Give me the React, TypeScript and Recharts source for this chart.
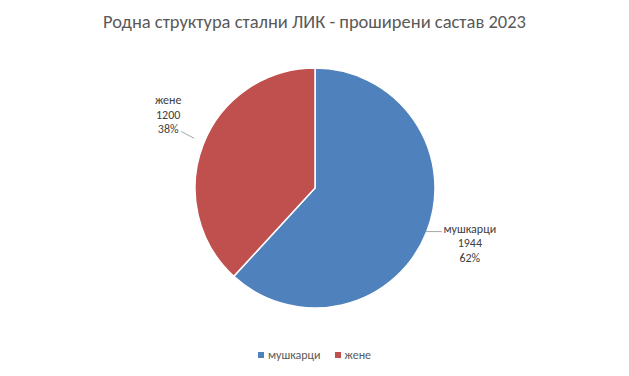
import { PieChart, Pie, Cell, Legend } from "recharts";

const categories = ["мушкарци", "жене"];
const counts = [1944, 1200];
const percents = ["62%", "38%"];
const colors = ["#4F81BD", "#C0504D"];

const chartTitle = "Родна структура стални ЛИК - проширени састав 2023";
const FONT = "Carlito, Calibri, 'Liberation Sans', Arial, sans-serif";

const data = categories.map((name, i) => ({
  name,
  value: counts[i],
  pct: percents[i],
}));

const RAD = Math.PI / 180;

// eslint-disable-next-line @typescript-eslint/no-explicit-any
function renderLabel(props: any) {
  const { cx, cy, midAngle, outerRadius, index } = props;
  const ex = cx + outerRadius * Math.cos(-midAngle * RAD);
  const ey = cy + outerRadius * Math.sin(-midAngle * RAD);
  const d = data[index];
  const right = ex > cx;

  // label block placement, Excel-style "best fit" outside the slice
  const tx = right ? ex + 43 : ex - 35;
  const ty = right ? ey - 3 : ey - 44;
  const line = right
    ? `M${ex - 1},${ey} L${ex + 15},${ey}`
    : `M${ex - 22},${ey - 13} L${ex - 9},${ey - 6}`;

  return (
    <g>
      <path d={line} stroke="#A6A6A6" strokeWidth={1} fill="none" />
      <text
        x={tx}
        y={ty}
        textAnchor="middle"
        dominantBaseline="central"
        fill="#404040"
        style={{ fontSize: 12, fontFamily: FONT }}
      >
        <tspan x={tx} dy={0}>
          {d.name}
        </tspan>
        <tspan x={tx} dy={14.5}>
          {d.value}
        </tspan>
        <tspan x={tx} dy={14.5}>
          {d.pct}
        </tspan>
      </text>
    </g>
  );
}

function LegendContent() {
  return (
    <div
      style={{
        display: "flex",
        justifyContent: "center",
        gap: 14,
        fontSize: 12,
        fontFamily: FONT,
        color: "#595959",
      }}
    >
      {categories.map((c, i) => (
        <div key={c} style={{ display: "flex", alignItems: "center", gap: 4 }}>
          <span
            style={{
              display: "inline-block",
              width: 6,
              height: 6,
              backgroundColor: colors[i],
            }}
          />
          {c}
        </div>
      ))}
    </div>
  );
}

export default function App() {
  return (
    <div
      style={{
        position: "absolute",
        left: 0,
        top: 0,
        width: 629,
        height: 376,
        background: "#FFFFFF",
      }}
    >
      <div
        style={{
          position: "absolute",
          top: 10,
          left: 0,
          width: 629,
          textAlign: "center",
          fontFamily: FONT,
          fontSize: 18.5,
          color: "#595959",
        }}
      >
        {chartTitle}
      </div>
      <PieChart
        width={629}
        height={376}
        margin={{ top: 0, right: 0, bottom: 0, left: 0 }}
      >
        <Pie
          data={data}
          dataKey="value"
          nameKey="name"
          cx={315}
          cy={188}
          outerRadius={120}
          startAngle={90}
          endAngle={-270}
          stroke="#FFFFFF"
          strokeWidth={1.5}
          label={renderLabel}
          labelLine={false}
          isAnimationActive={false}
        >
          {data.map((d, i) => (
            <Cell key={d.name} fill={colors[i]} />
          ))}
        </Pie>
        <Legend
          verticalAlign="bottom"
          content={LegendContent}
          wrapperStyle={{ bottom: 14 }}
        />
      </PieChart>
    </div>
  );
}
